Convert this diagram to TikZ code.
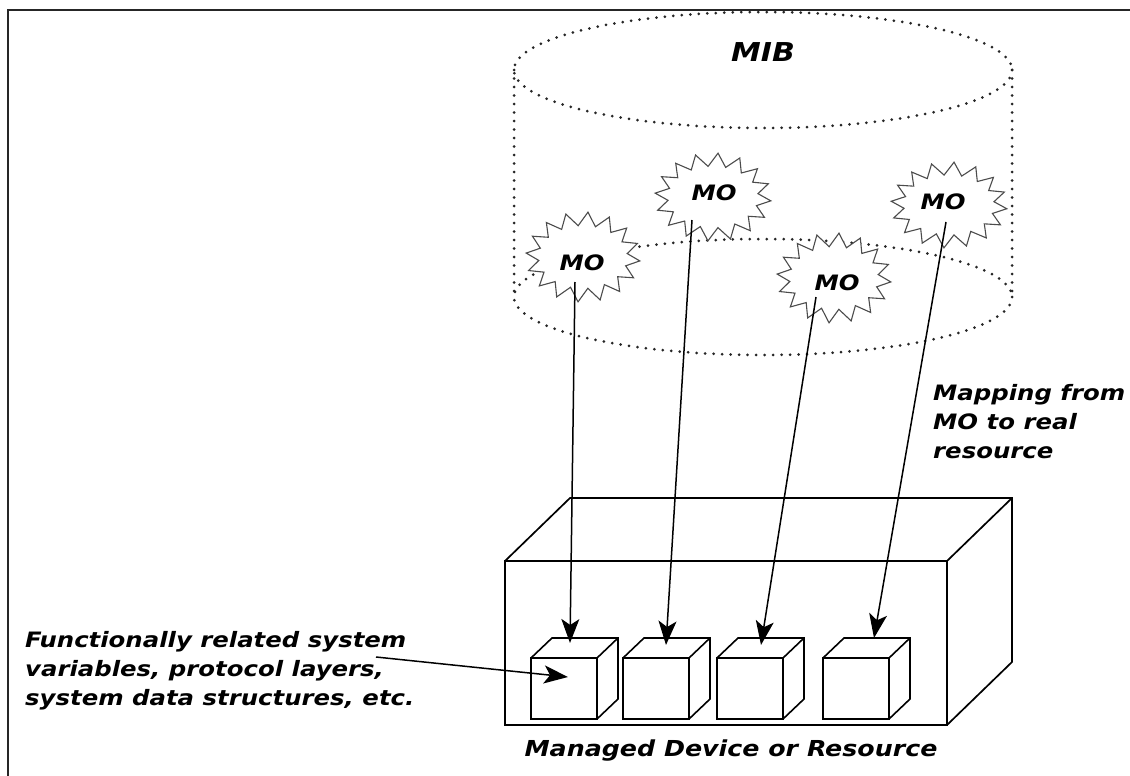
\documentclass[tikz,border=0pt]{standalone}
\usepackage{fontspec}
\setmainfont{DejaVu Sans}[FakeStretch=1.15]
\usetikzlibrary{arrows.meta}
\newcommand\burstat[4]{%
  \filldraw[burst] plot[domain=0:31,samples=32,variable=\k]
    ({#1+(1-0.22*mod(round(\k),2))*#3*cos(11.25*\k+5)},{#2+(1-0.3*mod(round(\k),2))*#4*sin(11.25*\k+5)}) -- cycle;}
\begin{document}
\begin{tikzpicture}[x=1pt,y=-1pt,
  lbl/.style={font=\fontsize{21.2}{29}\selectfont\bfseries\itshape, inner sep=0pt},
  dots/.style={line width=3pt, dash pattern=on 0pt off 8.5pt, line cap=round, black!85},
  edge/.style={line width=1.7pt},
  cube/.style={draw, line width=1.6pt, minimum width=66, minimum height=61, anchor=north west, inner sep=0pt, outer sep=0pt},
  conn/.style={line width=1.5pt, -{Stealth[length=24pt,width=18pt,inset=6pt]}},
  burst/.style={draw=black!70, line width=1.1pt, fill=white},
]
\useasboundingbox (0,0) rectangle (1130,776);
\fill[white] (0,0) rectangle (1130,776);
\draw[line width=2.2pt, black!85] (8,776) -- (8,10) -- (1130,10);

% MIB cylinder
\draw[dots] (514,70) -- (514,297);
\draw[dots] (1012,70) -- (1012,297);
\draw[dots] (763,70) ellipse (249 and 58);
\draw[dots] (763,297) ellipse (249 and 58);
\node[lbl, font=\fontsize{26}{30}\selectfont\bfseries\itshape] (mib) at (763,52) {MIB};

% managed objects
\burstat{583}{257}{57}{45}
\burstat{713}{197}{58}{44}
\burstat{834}{278}{57}{45}
\burstat{949}{205}{58}{43}
\node[lbl] (mo1) at (582,263) {MO};
\node[lbl] (mo2) at (714,193) {MO};
\node[lbl] (mo3) at (837,283) {MO};
\node[lbl] (mo4) at (943,202) {MO};
\coordinate (s1) at (575,282);
\coordinate (s2) at (692,220);
\coordinate (s3) at (816,297);
\coordinate (s4) at (946,222);

% managed device
\node[draw, edge, minimum width=442, minimum height=164, anchor=north west, inner sep=0pt, outer sep=0pt] (dev) at (505,561) {};
\draw[edge, line join=miter] (dev.north west) -- ++(65,-63) -- ++(442,0) -- ++(0,164) -- (dev.south east);
\draw[edge] (dev.north east) -- ++(65,-63);
\node[lbl, font=\fontsize{22}{26}\selectfont\bfseries\itshape] (devlbl) at (731,751) {Managed Device or Resource};

% resources
\foreach \n/\xx in {1/531,2/623,3/717,4/823}{
  \node[cube] (c\n) at (\xx,658) {};
  \draw[line width=1.6pt, line join=miter] (c\n.north west) -- ++(21,-20) -- ++(66,0) -- ++(0,61) -- (c\n.south east);
  \draw[line width=1.6pt] (c\n.north east) -- ++(21,-20);
}
\coordinate (t1) at (570,643);
\coordinate (t2) at (666,645);
\coordinate (t3) at (761,645);
\coordinate (t4) at (874,638);

\draw[conn] (s1) -- (t1);
\draw[conn] (s2) -- (t2);
\draw[conn] (s3) -- (t3);
\draw[conn] (s4) -- (t4);

% labels
\node[lbl, align=left, anchor=north west] (func) at (25,631) {Functionally related system\\variables, protocol layers,\\system data structures, etc.};
\coordinate (h0) at (376,657);
\coordinate (h1) at (568,677);
\draw[conn] (h0) -- (h1);
\node[lbl, align=left, anchor=north west] (map) at (933,384) {Mapping from\\MO to real\\resource};
\end{tikzpicture}
\end{document}
